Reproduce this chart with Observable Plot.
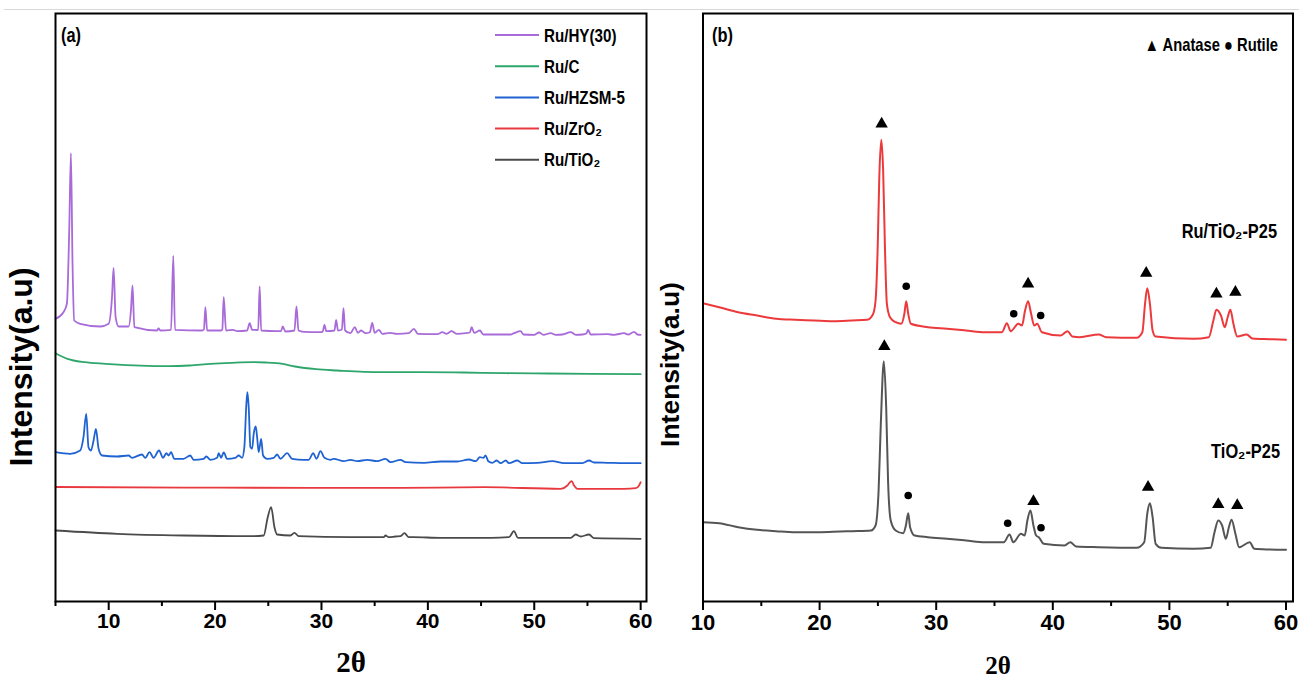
<!DOCTYPE html>
<html><head><meta charset="utf-8">
<script src="https://cdn.jsdelivr.net/npm/d3@7"></script>
<script src="https://cdn.jsdelivr.net/npm/@observablehq/plot@0.6"></script>
<style>
html,body{margin:0;padding:0;background:#fff;}
body{width:1299px;height:678px;overflow:hidden;position:relative;}
#topline{position:absolute;left:4px;right:0;top:9px;height:1px;background:#d8d8d8;}
#pa{position:absolute;left:0;top:0;}
#pb{position:absolute;left:650px;top:0;}
svg{overflow:visible;}
</style></head><body>
<div id="topline"></div>
<div id="pa"></div><div id="pb"></div>
<script>
// ---------- Panel (a) data: [2θ, intensity (a.u.)] ----------
const ruHY30 = [[5.0,282.7],[5.75,289.3],[6.07,297.7],[6.29,371],[6.45,448.3],[6.60,338],[6.76,281],[7.32,277.7],[9.21,275],[9.99,277.7],[10.31,304.3],[10.46,333.7],[10.65,284.3],[10.93,275],[11.87,275],[12.09,291],[12.24,316],[12.41,274.3],[14.54,271],[14.69,273],[14.85,271],[15.86,271.7],[16.07,345.7],[16.23,271.7],[18.77,271],[18.95,272],[19.09,294.3],[19.25,271],[20.56,271],[20.68,272],[20.81,304.3],[21.03,271],[21.69,271.7],[22.07,270.3],[23.01,271],[23.25,278.3],[23.48,271.7],[24.05,271.5],[24.19,315],[24.33,271],[25.83,270.3],[26.2,270.5],[26.36,275],[26.61,270],[27.46,271],[27.65,295],[27.84,271],[28.33,269.7],[29.91,269.3],[30.12,270],[30.28,276.7],[30.45,270.3],[31.22,271],[31.38,281.7],[31.55,271],[31.92,272],[32.07,293.3],[32.22,271],[32.73,268.3],[33.13,274.3],[33.42,268.7],[33.73,271],[34.14,268.3],[34.55,269.3],[34.77,278.7],[35.0,268.7],[35.39,271.7],[35.71,267.7],[36.43,268.7],[37.12,267.7],[38.21,268.3],[38.68,272.7],[39.06,267.7],[40.89,267.3],[41.36,269.3],[41.76,267.7],[42.23,270.3],[42.70,267.7],[43.55,268.3],[43.95,269],[44.11,274.3],[44.35,268.7],[44.89,271],[45.21,267],[47.78,267],[48.09,268.3],[48.72,270.3],[48.98,267],[49.97,266.7],[50.45,269],[50.86,266.7],[51.55,268.3],[52.02,266.7],[52.65,267],[53.43,269.3],[53.90,266.7],[54.53,267],[54.9,268],[55.06,271.7],[55.3,267],[56.88,267.3],[57.50,266.7],[58.44,268.3],[58.82,267],[59.38,269.7],[59.70,267],[60.0,266.7]];
const ruC = [[5.0,248.3],[6.13,242.7],[7.72,239.3],[9.70,237.7],[13.66,235.7],[15.64,235.3],[17.62,236],[19.59,237.7],[21.58,238.7],[23.55,239.3],[24.75,239],[26.33,237.7],[27.52,235],[29.50,232.3],[31.48,231],[35.44,229.3],[39.40,229.3],[43.36,229],[47.31,228.3],[51.28,228],[55.24,227.7],[60.0,227.3]];
const ruHZSM5 = [[5.0,149.3],[6.38,147.7],[7.32,151],[7.63,164.3],[7.89,187.7],[8.10,154.3],[8.33,151],[8.58,161],[8.80,172.7],[9.05,152.7],[9.37,146],[10.78,145],[11.87,146],[12.19,143.7],[13.13,147],[13.44,143.7],[13.84,149.3],[14.22,143.7],[14.73,151],[15.11,143.7],[15.42,148.3],[15.63,146],[15.86,149.3],[16.17,142.7],[17.04,142.7],[17.67,146],[17.98,141.7],[18.93,142.7],[19.18,145],[19.56,141.7],[20.19,143.7],[20.34,148.3],[20.56,143.7],[20.81,149],[21.13,142.7],[21.91,143.7],[22.22,146],[22.54,143.7],[22.75,154.3],[22.94,197.7],[23.04,209.3],[23.16,194.3],[23.32,154.3],[23.48,152.7],[23.63,167.7],[23.82,175],[23.95,164.3],[24.10,149.3],[24.33,162.7],[24.51,146],[24.89,142.7],[25.51,143.7],[25.83,147],[26.14,142.7],[26.77,148.3],[27.24,142.7],[28.33,141.7],[28.80,141.7],[29.22,148.3],[29.53,142.7],[29.91,150.3],[30.28,143.7],[30.85,141.7],[31.16,142.7],[32.10,140.3],[32.73,141.7],[33.36,140.3],[34.30,141.7],[35.24,140.3],[36.02,142.7],[36.49,139.3],[37.43,141.7],[37.90,139.3],[39.63,138.7],[41.20,140],[42.77,140],[43.86,142],[44.49,140.3],[44.89,144.3],[45.21,143.7],[45.42,146],[45.68,140.3],[46.06,138.7],[46.47,141],[46.84,138.3],[47.32,141],[47.62,138.3],[48.41,141],[48.88,138.3],[50.30,138.7],[51.71,140.3],[52.80,138.3],[54.53,138.3],[55.15,141],[55.62,139],[56.88,138.7],[58.44,138.3],[60.0,138.3]];
const ruZrO2 = [[5.0,114.5],[20.35,113.8],[37.24,113.7],[45.27,114.3],[52.48,112.7],[53.11,116],[53.36,119.3],[53.52,120.3],[53.74,116],[54.06,112.7],[58.44,112.7],[59.54,113.3],[59.85,116],[60.0,119.3]];
const ruTiO2 = [[5.0,71],[10.78,67.7],[17.04,66],[23.32,65.3],[24.57,66],[24.95,84.3],[25.27,94.3],[25.58,74.3],[25.83,67],[27.08,66],[27.46,68.7],[27.86,65.3],[32.73,64.3],[35.86,64.3],[36.02,66],[36.33,64.3],[36.96,65],[37.43,65.3],[37.80,68.3],[38.21,64.3],[38.68,64.3],[41.20,63.7],[45.91,63.7],[47.62,64.3],[48.09,70.3],[48.47,63.7],[53.43,63.7],[53.90,67],[54.37,65],[55.15,67],[55.62,63.3],[60.0,62.7]];

// ---------- Panel (b) data ----------
const ruTiO2P25 = [[10.0,298.3],[11.39,294.3],[13.02,289.3],[14.64,286],[16.27,282.7],[17.90,281.7],[19.53,281],[21.15,280.3],[22.78,281],[24.08,281.7],[24.57,287],[24.80,301],[24.99,357.7],[25.12,424.3],[25.29,461.7],[25.45,431],[25.61,351],[25.77,297.7],[26.04,284.3],[26.52,279.3],[27.01,277.7],[27.27,287.7],[27.43,300.3],[27.60,287.7],[27.83,277.7],[29.29,274.3],[30.92,272.7],[32.55,271],[34.17,269.3],[35.64,269.3],[36.06,278.3],[36.39,270.3],[37.04,277.7],[37.36,276],[37.62,291],[37.88,300.3],[38.14,287.7],[38.40,276],[38.66,277.7],[39.06,269.3],[40.68,266],[41.27,270.3],[41.66,265],[42.31,264.3],[43.94,267],[44.59,264.3],[47.19,263.7],[47.68,269.3],[47.91,297.7],[48.10,313.3],[48.33,297.7],[48.56,271],[48.82,265],[52.08,262.7],[53.38,264.3],[53.77,281],[54.03,291.7],[54.42,286],[54.75,274.3],[55.00,284.3],[55.23,291.7],[55.49,277.7],[55.82,265],[56.63,267],[57.12,263],[58.59,262.3],[60.0,261.7]];
const tiO2P25 = [[10.0,79.3],[11.39,78.3],[13.02,74.3],[14.64,71.7],[16.27,70.3],[17.90,69.3],[19.53,69.3],[21.15,69.7],[22.78,70.3],[24.41,71],[24.80,76],[25.06,111],[25.25,177.7],[25.51,240.3],[25.71,194.3],[25.87,121],[26.10,81],[26.52,71],[27.17,68.3],[27.40,76],[27.60,88.3],[27.76,74.3],[28.15,66],[29.29,64.3],[30.92,62.7],[32.55,61],[34.17,59.3],[35.80,59.3],[36.29,67],[36.61,59.3],[37.27,67.7],[37.59,66],[37.82,81],[38.08,91],[38.34,76],[38.57,66],[38.80,64.3],[39.22,57.7],[41.01,56],[41.50,59.3],[42.0,55],[43.94,54.3],[47.19,53.7],[47.84,59.3],[48.10,87.7],[48.33,98.3],[48.56,84.3],[48.82,57.7],[49.31,53.7],[52.08,52.7],[53.54,53.7],[53.87,69.3],[54.19,81],[54.52,76],[54.84,62.7],[55.10,74.3],[55.33,81.7],[55.66,67.7],[55.98,54.3],[56.89,59.3],[57.28,52.7],[58.59,52],[60.0,51.7]];
// phase markers [2θ, intensity]
const anataseMarks = [[25.32,477.7],[37.88,317.7],[48.01,328.3],[54.03,307.7],[55.66,309.3],[25.55,255],[38.34,100],[48.17,114.3],[54.19,97],[55.82,96]];
const rutileMarks = [[27.43,315.3],[36.65,287.7],[38.96,286],[27.60,106],[36.13,78.3],[38.99,73.7]];

// ---------- labels / styles ----------
const seriesA = ["Ru/HY(30)", "Ru/C", "Ru/HZSM-5", "Ru/ZrO₂", "Ru/TiO₂"];
const colorsA = ["#a86bd9", "#2ea66b", "#1f63d3", "#e8393f", "#4b4b4b"];
const seriesB = ["Ru/TiO₂-P25", "TiO₂-P25"];
const colorsB = ["#ec3a3c", "#555555"];
const phaseLegend = "▲ Anatase ● Rutile";
const majorTicksA = [10, 20, 30, 40, 50, 60];
const minorTicksA = [5, 15, 25, 35, 45, 55];
const majorTicksB = [10, 20, 30, 40, 50, 60];
const minorTicksB = [15, 25, 35, 45, 55];

const SANS = '"Liberation Sans",Arial,sans-serif';
const SERIF = '"Liberation Serif","Times New Roman",serif';
const K = 0.82;      // horizontal squeeze imitating a narrow bold face
const KT = 0.86;     // squeeze for tick labels

function rows(arr, name) { return arr.map(([x, y]) => ({x, y, name})); }
function label(g, x, y, txt, size, anchor) {
  return g.append("text")
    .attr("transform", `translate(${x},${y}) scale(${K},1)`)
    .attr("text-anchor", anchor)
    .attr("font-family", SANS).attr("font-weight", "bold").attr("font-size", size).attr("fill", "black")
    .text(txt);
}
function squeeze(svg, ariaLabel, k) {
  d3.select(svg).selectAll(`g[aria-label="${ariaLabel}"] text`).each(function () {
    const xa = this.getAttribute("x");
    if (xa != null) this.setAttribute("x", +xa / k);
    const tr = this.getAttribute("transform");
    this.setAttribute("transform", (tr ? tr + " " : "") + `scale(${k},1)`);
  });
}
function yTitle(g, cx, cy, size) {
  g.append("text").attr("transform", `translate(${cx},${cy}) rotate(-90)`)
    .attr("text-anchor", "middle").attr("dominant-baseline", "central")
    .attr("font-family", SANS).attr("font-weight", "bold").attr("font-size", size).attr("fill", "black")
    .text("Intensity(a.u)");
}
function tickLabels(ticks, size, dy) {
  return Plot.text(ticks, {x: d => d, frameAnchor: "bottom", dy, text: d => String(d),
    fontFamily: SANS, fontWeight: "bold", fontSize: size, fill: "black", lineAnchor: "middle",
    ariaLabel: "tick-labels"});
}

// ---------- Panel (a) ----------
const dataA = [
  ...rows(ruHY30, seriesA[0]), ...rows(ruC, seriesA[1]), ...rows(ruHZSM5, seriesA[2]),
  ...rows(ruZrO2, seriesA[3]), ...rows(ruTiO2, seriesA[4])
];
const plotA = Plot.plot({
  width: 664, height: 678,
  marginLeft: 55, marginRight: 18, marginTop: 13, marginBottom: 77,
  x: {domain: [5, 60.55]},
  y: {domain: [0, 588], axis: null},
  color: {domain: seriesA, range: colorsA},
  style: {fontFamily: SANS, background: "transparent", color: "black"},
  marks: [
    Plot.line(dataA, {x: "x", y: "y", z: "name", stroke: "name", strokeWidth: 1.8, curve: "monotone-x"}),
    Plot.frame({stroke: "black", strokeWidth: 2}),
    Plot.axisX({ticks: majorTicksA, tickSize: 9, tickFormat: () => "", label: null, strokeWidth: 2}),
    Plot.axisX({ticks: minorTicksA, tickSize: 5, tickFormat: () => "", label: null, strokeWidth: 2}),
    tickLabels(majorTicksA, 21, 20),
    Plot.text(["2θ"], {frameAnchor: "bottom", dy: 61, fontFamily: SERIF, fontSize: 29, fontWeight: "bold", lineAnchor: "middle"})
  ]
});
document.getElementById("pa").appendChild(plotA);
squeeze(plotA, "tick-labels", KT);
{
  const g = d3.select(plotA).append("g").attr("class", "annotations");
  label(g, 61, 42, "(a)", 20, "start");
  yTitle(g, 21, 367, 32);
  seriesA.forEach((lab, i) => {
    const y = 35 + i * 31.2;
    g.append("line").attr("x1", 495).attr("x2", 539).attr("y1", y).attr("y2", y)
      .attr("stroke", colorsA[i]).attr("stroke-width", 2);
    label(g, 544, y + 6.5, lab, 18.5, "start");
  });
}

// ---------- Panel (b) ----------
const dataB = [...rows(ruTiO2P25, seriesB[0]), ...rows(tiO2P25, seriesB[1])];
const plotB = Plot.plot({
  width: 649, height: 678,
  marginLeft: 52.5, marginRight: 6.5, marginTop: 13, marginBottom: 77,
  x: {domain: [10, 60.6]},
  y: {domain: [0, 588], axis: null},
  color: {domain: seriesB, range: colorsB},
  style: {fontFamily: SANS, background: "transparent", color: "black"},
  marks: [
    Plot.line(dataB, {x: "x", y: "y", z: "name", stroke: "name", strokeWidth: 2, curve: "monotone-x"}),
    Plot.dot(anataseMarks, {x: d => d[0], y: d => d[1], symbol: "triangle", r: 4.6, fill: "black", stroke: "none"}),
    Plot.dot(rutileMarks, {x: d => d[0], y: d => d[1], symbol: "circle", r: 3.8, fill: "black", stroke: "none"}),
    Plot.frame({stroke: "black", strokeWidth: 2}),
    Plot.axisX({ticks: majorTicksB, tickSize: 9, tickFormat: () => "", label: null, strokeWidth: 2}),
    Plot.axisX({ticks: minorTicksB, tickSize: 5, tickFormat: () => "", label: null, strokeWidth: 2}),
    tickLabels(majorTicksB, 22, 21),
    Plot.text(["2θ"], {frameAnchor: "bottom", dy: 64, fontFamily: SERIF, fontSize: 25, fontWeight: "bold", lineAnchor: "middle"})
  ]
});
document.getElementById("pb").appendChild(plotB);
squeeze(plotB, "tick-labels", KT);
{
  const g = d3.select(plotB).append("g").attr("class", "annotations");
  label(g, 62, 42, "(b)", 20, "start");
  yTitle(g, 19.5, 364.5, 26.5);
  label(g, 628, 51, phaseLegend, 18, "end");
  label(g, 627, 237.5, seriesB[0], 20, "end");
  label(g, 630, 458, seriesB[1], 20, "end");
}
</script>
</body></html>
